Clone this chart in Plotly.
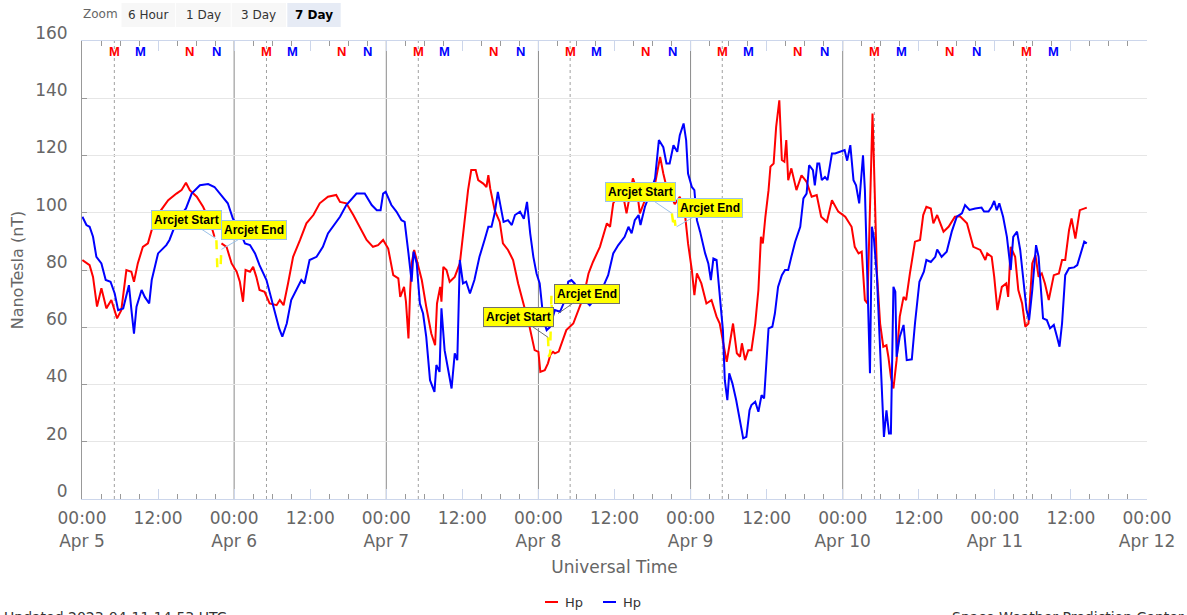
import pandas as pd
import plotly.graph_objects as go

START = pd.Timestamp("2023-04-05 00:00")

# ---------------- data (hours since 2023-04-05 00:00 UT, nT) ----------------
red_hours = [0.06, 1.2, 1.74, 2.37, 3.06, 3.84, 4.63, 5.53, 6.2, 7.0, 7.79, 8.2, 8.8, 9.6, 10.4, 11.0,
             12.3, 13.6, 14.9, 15.7, 16.4, 17.0, 18.1, 19.1, 20.2, 20.9, 21.5, 22.0, 22.8, 23.6,
             24.4, 24.9, 25.4, 25.8, 26.5, 27.0, 27.5, 28.0, 28.8, 29.6, 30.7, 31.2, 31.8, 32.5,
             33.3, 34.4, 35.4, 36.5, 37.5, 38.8, 40.1, 40.7, 41.7, 42.8, 43.8, 44.9, 45.9, 46.7,
             47.5, 48.3, 49.1, 49.9, 50.2, 50.8, 51.1, 51.5, 51.75, 52.0, 52.4, 52.8, 53.6, 54.3,
             55.1, 55.7, 56.0, 56.5, 56.7, 57.0, 57.5, 58.0, 58.8, 59.6, 59.9, 60.4, 60.9, 61.4,
             62.1, 62.5, 63.3, 63.8, 64.1, 64.4, 65.1, 65.9, 66.4, 67.2, 68.0, 68.8, 69.6, 70.6,
             71.4, 72.0, 72.3, 73.0, 73.5, 73.9, 74.3, 74.6, 75.2, 75.7, 76.4, 77.5, 78.3, 79.1,
             79.9, 80.6, 81.7, 82.8, 83.3, 83.8, 84.6, 85.4, 85.9, 86.4, 86.9, 87.5, 88.0, 88.8,
             89.6, 90.4, 91.2, 91.7, 92.2, 93.0, 93.5, 94.3, 95.1, 95.6, 96.2, 96.6, 97.0, 97.7,
             98.5, 99.3, 100.1, 100.6, 101.2, 101.7, 102.1, 102.7, 103.3, 103.8, 104.1, 104.6,
             105.1, 105.6, 106.2, 106.7, 107.1, 107.4, 107.8, 108.3, 108.6, 109.1, 109.5, 110.0,
             110.4, 110.8, 111.1, 111.4, 111.9, 112.7, 113.5, 114.3, 115.1, 115.9, 116.6, 117.5,
             118.3, 119.3, 120.4, 121.4, 121.9, 122.5, 123.0, 123.5, 123.9, 124.4, 124.7, 124.9,
             125.4, 125.9, 126.4, 126.9, 127.2, 127.6, 128.0, 128.5, 129.0, 129.6, 130.0, 130.6,
             131.4, 132.2, 132.7, 133.2, 133.9, 134.3, 134.9, 135.9, 136.7, 137.7, 138.5, 139.6,
             140.6, 141.7, 142.5, 142.8, 143.5, 143.9, 144.4, 145.1, 145.8, 146.1, 146.5, 147.2,
             147.7, 148.3, 148.8, 149.3, 149.9, 150.4, 150.9, 151.4, 151.9, 152.5, 153.3, 154.1,
             154.6, 155.1, 155.7, 156.1, 156.7, 157.4, 158.0, 158.5]
red_values = [83.5, 81.7, 77.6, 67.2, 73.6, 66.6, 69.5, 63.1, 66, 80, 79.4, 75.9, 82.3, 88.1, 89.3, 94,
              100.4, 104.4, 106.7, 107.9, 110.5, 107.9, 105.6, 102.1, 96.8, 91.6, None, 89.3, 88.1, 82.3,
              79.4, 75.9, 68.9, 80, 79.4, 81.1, 77.6, 73, 72.4, 68.3, 67.7, 69.5, 67.7, 75.3,
              84.6, 90.5, 96.3, 99.2, 103.3, 105.6, 106.2, 103.8, 103.3, 99.2, 95.1, 90.5, 88.1, 88.7,
              90.5, 87.5, 78.2, 77.1, 70.6, 74.1, 69, 56.1, 72, 82.3, 87, 83.5, 76.5, 67.2,
              57.8, 53.7, 68.3, 74.1, 68.9, 81.1, 80, 75.9, 77.6, 82.3, 88.1, 96.3, 107.9, 114.9,
              114.9, 111.4, 110.2, 109, 113.1, 108.4, 100.9, 96.8, 89.3, 87, 83.5, 75.3, 68.3, 60.2,
              52, 51.4, 44.4, 45, 47.4, 50.5, 51.4, 50.9, 51.5, 54.4, 59, 61.3, 66, 70.6,
              78.8, 82.8, 88.1, 96.3, 95.1, 103.3, 106.2, 105.6, 99.8, 106.2, 112, 108.4, 99.8, 104.4,
              106.7, 110.2, 119.5, 113.7, 109, 105.6, 103, 105.6, 99.8, 89.3, 80, 71.2, 78.8, 75.3,
              68.3, 69.5, 63.7, 61.3, 54.4, 47.9, 53.2, 61.3, 50.9, 49.7, 54.4, 48.5,
              52, 52, 61.3, 73, 91.6, 89.3, 98.6, 107.9, 116.1, 117.2, 130, 139.3,
              118.4, 117.8, 125.4, 111.4, 115.5, 107.9, 113.1, 110.8, 105.6, 106.2, 98.6, 96.8,
              104.4, 100.4, 98.6, 95.1, 88.1, 85.8, 86.4, 69.5, 68.3, 113.7, 134.7, 119.5,
              78.8, 61.3, 53.2, 53.7, 49.7, 42.7, 38.6, 48.5, 63.7, 70.6, 69.5, 78.8,
              89.9, 90.5, 99.2, 102.1, 101.5, 96.3, 99.2, 93.4, 95.1, 98.6, 98.8, 96.3,
              88.1, 87, 83.5, 85.8, 84.6, 77.6, 66, 74.1, 75.3, 70.6, 88.1, 84.6,
              73, 68.3, 60.2, 61.3, 82.3, 85.2, 77.6, 78.8, 75.3, 69.5, 78.2, 78.8,
              83.5, 83.5, 93.9, 98, 91, 100.9, 101.5, 101.8]

blue_hours = [0.06, 0.7, 1.2, 1.74, 2.27, 3.06, 3.74, 4.5, 5.16, 5.7, 6.5, 7.0, 7.4, 7.8, 8.2, 8.6, 9.4,
              9.9, 10.6, 11.0, 12.0, 13.3, 13.8, 14.6, 15.4, 16.4, 17.3, 18.6, 19.9, 20.9, 22.0,
              23.0, 23.8, 24.6, 25.7, 26.5, 27.3, 28.0, 29.1, 30.2, 31.1, 31.6, 32.3, 33.0, 34.1,
              34.6, 35.1, 35.9, 37.0, 38.0, 38.8, 39.6, 40.7, 41.7, 43.3, 44.6, 45.7, 46.5, 47.1,
              47.5, 47.9, 48.8, 49.6, 50.4, 50.9, 51.5, 52.0, 52.3, 52.8, 53.3, 53.8, 54.3, 54.9,
              55.6, 55.9, 56.4, 56.7, 57.2, 57.8, 58.3, 58.8, 59.2, 59.6, 60.1, 60.6, 61.2, 61.9,
              62.7, 63.5, 64.1, 64.6, 65.1, 65.6, 66.1, 66.5, 67.2, 67.8, 68.3, 69.1, 69.7, 70.2,
              70.7, 71.2, 71.7, 72.2, 72.8, 73.3, 73.8, 74.6, 75.4, 76.2, 76.7, 77.2, 77.7, 78.5,
              79.3, 80.1, 81.2, 82.2, 83.0, 83.8, 84.6, 85.6, 86.2, 86.7, 87.2, 87.8, 88.1, 88.8,
              89.6, 90.4, 91.0, 91.7, 92.2, 92.7, 93.3, 93.9, 94.3, 94.9, 95.3, 95.6, 96.2, 96.6,
              97.0, 97.5, 98.3, 98.8, 99.2, 99.6, 100.1, 100.6, 101.1, 101.4, 101.8, 102.1, 102.6,
              103.2, 103.8, 104.3, 104.8, 105.3, 105.6, 106.2, 106.7, 107.2, 107.6, 108.3, 108.9,
              109.3, 109.8, 110.4, 110.9, 111.4, 111.9, 112.5, 113.3, 113.8, 114.3, 114.7, 115.3,
              115.6, 116.0, 116.3, 116.7, 117.2, 117.6, 118.3, 118.8, 119.6, 120.3, 120.7, 121.2,
              121.7, 122.1, 122.6, 123.2, 123.5, 124.0, 124.3, 124.6, 124.9, 125.4, 125.9, 126.5,
              126.9, 127.3, 127.6, 128.0, 128.3, 128.5, 129.0, 129.6, 130.1, 130.9, 131.4, 132.1,
              132.8, 133.2, 133.9, 134.6, 134.9, 135.6, 136.4, 137.2, 138.0, 138.8, 139.3, 140.0,
              140.9, 141.9, 142.3, 143.0, 143.5, 143.9, 144.3, 144.7, 145.3, 145.9, 146.5, 146.9,
              147.5, 148.0, 148.5, 149.0, 149.4, 149.9, 150.5, 150.9, 151.6, 152.2, 152.7, 153.3,
              153.8, 154.2, 154.6, 155.1, 155.7, 156.5, 157.0, 157.5, 158.1, 158.5]
blue_values = [98.6, 95.7, 95.1, 91.6, 84.6, 82.3, 76.5, 75.9, 71.8, 66, 66.6, 70.6, 74.7, 66, 57.8, 67.2, 73,
               70.6, 68.3, 76.5, 85.8, 88.7, 90.5, 95.1, 98.6, 101.5, 106.7, 109.6, 110, 109, 106.2,
               103.3, 98, 95.1, 89.3, 88.7, 85.8, 81.7, 76.5, 67.2, 59.6, 56.7, 61.3, 69.5, 74.1,
               76.5, 75.3, 83.5, 84.6, 88.1, 92.8, 95.1, 98.6, 102.7, 106.7, 106.7, 102.7, 100.9, 100.9,
               106.7, 107.3, 102.7, 100.4, 97.4, 96.8, 85.8, 75.9, 86.4, 82.3, 68.3, 64.8, 56.7, 41.5,
               37.4, 46.8, 44.4, 66.6, 52, 43.9, 38.6, 50.9, 48.5, 83.5, 75.3, 75.9, 71.8, 76.5,
               84.6, 90.5, 95.1, 95.1, 99.8, 107.3, 102.1, 96.8, 97.4, 95.7, 99.2, 100.4, 97.9, 103.8,
               92.8, 84.6, 78.8, 75.3, 62.5, 59, 60, 66, 65.4, 69.5, 75.9, 76.5, 75.3, 71.8,
               69.5, 67.7, 70.6, 74.1, 78.2, 85.8, 88.7, 91.6, 95.1, 92.8, 97.4, 99.2, 95.7, 102.1,
               106.7, 112, 125.4, 122.9, 117.2, 117.2, 123.6, 121.3, 127.1, 131.2, 125.4, 113.7, 109, 107.9,
               97.4, 93.4, 85.8, 82.3, 76.5, 84, 83.5, 72, 59, 41.5, 34.5, 43.9, 40.4,
               34.5, 27.6, 21.2, 21.7, 31, 32.8, 34, 30.5, 36.3, 35.1, 59.6, 60.2,
               64.8, 74.1, 78.2, 80, 80, 84.6, 89.9, 95.1, 105, 106.7, 116.6, 114.9,
               109.6, 117.2, 117.2, 111.4, 112.5, 111.4, 120.7, 120.7, 121.3, 121.9, 118.2, 123.6,
               111.4, 109.6, 103.3, 120.1, 107.9, 66, 43.9, 95.1, 91.6, 77.6, 52, 21.7,
               31, 22.9, 22.9, 74.1, 72.4, 49.7, 56.7, 60.8, 48.5, 48.8, 61.3, 75.9,
               79.4, 83.5, 82.8, 84.6, 87.2, 84.6, 86.4, 93.4, 98.6, 99.8, 102.7, 101,
               101.5, 101.8, 100.4, 100.4, 102.1, 104.1, 100.9, 103.3, 98.6, 91.6, 80, 91.6,
               93.4, 87, 76.5, 66, 62.5, 73, 88.7, 84.6, 63.1, 62.5, 59.6, 60.8,
               56.7, 53.2, 61.3, 78.2, 80.6, 80.9, 81.7, 85.8, 89.9, 89.3]

# Arcjet intervals (yellow), separated by gaps
arcjet_hours = [21.2, 21.25, 21.35, 21.85, 22.0, None,
                73.5, 73.65, 73.85, 73.95, 74.05, 74.15, None,
                93.05, 93.2, 93.35, 93.5, 93.7, 93.9]
arcjet_values = [90.4, 81.0, 80.5, 80.5, 88.0, None,
                 56.5, 49.7, 51.0, 62.0, 71.0, 63.0, None,
                 99.8, 96.3, 95.0, 97.5, 93.9, 92.8]

arcjet_start_hours = [21.1, 73.5, 93.05]
arcjet_start_values = [91.0, 56.5, 99.8]
arcjet_end_hours = [22.0, 75.1, 93.8]
arcjet_end_values = [87.2, 64.8, 95.1]

# Local noon/midnight markers (hours since start)
red_M_hours = [5.1, 29.1, 53.05, 77.0, 101.0, 125.0, 149.0]
blue_M_hours = [9.25, 33.2, 57.2, 81.2, 105.2, 129.2, 153.2]
red_N_hours = [16.95, 40.9, 64.9, 88.9, 112.9, 136.9]
blue_N_hours = [21.15, 45.1, 69.1, 93.1, 117.1, 141.1]
day_line_hours = [24, 48, 72, 96, 120]

tick_hours = [0, 12, 24, 36, 48, 60, 72, 84, 96, 108, 120, 132, 144, 156, 168]
tick_texts = ["00:00<br>Apr 5", "12:00", "00:00<br>Apr 6", "12:00", "00:00<br>Apr 7", "12:00",
              "00:00<br>Apr 8", "12:00", "00:00<br>Apr 9", "12:00", "00:00<br>Apr 10", "12:00",
              "00:00<br>Apr 11", "12:00", "00:00<br>Apr 12"]
minor_tick_hours = [0, 3, 6, 9, 12, 15, 18, 21, 24, 27, 30, 33, 36, 39, 42, 45, 48, 51, 54, 57, 60,
                    63, 66, 69, 72, 75, 78, 81, 84, 87, 90, 93, 96, 99, 102, 105, 108, 111, 114, 117,
                    120, 123, 126, 129, 132, 135, 138, 141, 144, 147, 150, 153, 156, 159, 162, 165, 168]
zoom_buttons = ["6 Hour", "1 Day", "3 Day", "7 Day"]


def t(h):
    return None if h is None else START + pd.Timedelta(hours=h)


# ---------------- layout geometry ----------------
W, H = 1187, 615
L, R, T, B = 82, 40, 41, 116
PW, PH = W - L - R, H - T - B


def px(xp):
    return (xp - L) / PW


def py(yp):
    return (H - B - yp) / PH


FONT = "DejaVu Sans"
BOLD = "Liberation Sans, Arial"

fig = go.Figure()
fig.add_trace(go.Scatter(x=[t(h) for h in red_hours], y=red_values, mode="lines", name="Hp",
                         line=dict(color="#ff0000", width=2), connectgaps=False, showlegend=False))
fig.add_trace(go.Scatter(x=[t(h) for h in blue_hours], y=blue_values, mode="lines", name="Hp",
                         line=dict(color="#0000ff", width=2), showlegend=False))
fig.add_trace(go.Scatter(x=[t(h) for h in arcjet_hours], y=arcjet_values, mode="lines", name="Arcjet",
                         line=dict(color="#ffff00", width=2.5, dash="dash"), connectgaps=False,
                         showlegend=False))

shapes = []
for h in day_line_hours:
    shapes.append(dict(type="line", xref="x", yref="paper", x0=t(h), x1=t(h), y0=0, y1=1,
                       line=dict(color="#8a8a8a", width=1), layer="below"))
for h in red_M_hours:
    shapes.append(dict(type="line", xref="x", yref="paper", x0=t(h), x1=t(h), y0=0, y1=1,
                       line=dict(color="#a0a0a0", width=1, dash="dot"), layer="below"))

annotations = []
for hs, txt, col in [(red_M_hours, "M", "#ff0000"), (blue_M_hours, "M", "#0000ff"),
                     (red_N_hours, "N", "#ff0000"), (blue_N_hours, "N", "#0000ff")]:
    for h in hs:
        annotations.append(dict(x=t(h), y=1, xref="x", yref="paper", text="<b>%s</b>" % txt,
                                showarrow=False, yanchor="middle", yshift=-10,
                                font=dict(family=BOLD, size=13, color=col)))

# Arcjet annotations
pair_colors = ["#9cc2e8", "#707070", "#9cc2e8"]
start_off = [(-29, -19), (-29, -20), (-31, -21)]
end_off = [(33, -19), (29, -20), (33, -19)]
for i in range(3):
    for hh, vv, lab, off in [(arcjet_start_hours[i], arcjet_start_values[i], "Arcjet Start", start_off[i]),
                             (arcjet_end_hours[i], arcjet_end_values[i], "Arcjet End", end_off[i])]:
        annotations.append(dict(x=t(hh), y=vv, xref="x", yref="y", text="<b>%s</b>" % lab,
                                showarrow=True, arrowhead=0, arrowwidth=1, arrowcolor=pair_colors[i],
                                ax=off[0], ay=off[1], standoff=0, bgcolor="#ffff00",
                                bordercolor=pair_colors[i], borderwidth=1, borderpad=2,
                                font=dict(family=BOLD, size=12, color="#000000")))

# Zoom buttons
annotations.append(dict(x=px(100), y=py(14), xref="paper", yref="paper", text="Zoom", showarrow=False,
                        xanchor="center", yanchor="middle", font=dict(family=FONT, size=12, color="#666666")))
btn_edges = [(121.5, 175), (175.8, 230.7), (231.7, 286), (287.3, 340.7)]
for i, (name, (x0, x1)) in enumerate(zip(zoom_buttons, btn_edges)):
    sel = name == "7 Day"
    shapes.append(dict(type="rect", xref="paper", yref="paper", x0=px(x0), x1=px(x1), y0=py(27), y1=py(3),
                       fillcolor="#e6ebf5" if sel else "#f7f7f7", line=dict(width=0), layer="above"))
    annotations.append(dict(x=px((x0 + x1) / 2), y=py(14.5), xref="paper", yref="paper",
                            text=("<b>%s</b>" % name) if sel else name, showarrow=False,
                            xanchor="center", yanchor="middle",
                            font=dict(family=FONT, size=12, color="#000000" if sel else "#333333")))

# Custom legend
shapes.append(dict(type="line", xref="paper", yref="paper", x0=px(545), x1=px(558), y0=py(602), y1=py(602),
                   line=dict(color="#ff0000", width=2)))
shapes.append(dict(type="line", xref="paper", yref="paper", x0=px(603), x1=px(616), y0=py(602), y1=py(602),
                   line=dict(color="#0000ff", width=2)))
for xl in (563, 621):
    annotations.append(dict(x=px(xl), y=py(602), xref="paper", yref="paper", text="Hp", showarrow=False,
                            xanchor="left", yanchor="middle", font=dict(family=FONT, size=13, color="#333333")))

# Footer (cut by window bottom, as in the reference)
annotations.append(dict(x=px(2), y=py(607), xref="paper", yref="paper", text="Updated 2023-04-11 14:53 UTC",
                        showarrow=False, xanchor="left", yanchor="top",
                        font=dict(family=FONT, size=14, color="#333333")))
annotations.append(dict(x=px(1186), y=py(607), xref="paper", yref="paper", text="Space Weather Prediction Center",
                        showarrow=False, xanchor="right", yanchor="top",
                        font=dict(family=FONT, size=14, color="#333333")))

fig.update_layout(
    width=W, height=H,
    margin=dict(l=L, r=R, t=T, b=B),
    paper_bgcolor="#ffffff", plot_bgcolor="#ffffff",
    font=dict(family=FONT, color="#666666"),
    showlegend=False,
    shapes=shapes, annotations=annotations,
    hovermode="x",
    xaxis=dict(
        type="date",
        range=[t(0), t(168)],
        tickmode="array", tickvals=[t(h) for h in tick_hours], ticktext=tick_texts,
        ticks="inside", ticklen=10, tickcolor="#ccd6eb", tickwidth=1,
        tickfont=dict(family=FONT, size=17, color="#666666"),
        showline=True, linecolor="#ccd6eb", linewidth=1, mirror="ticks",
        showgrid=False, zeroline=False,
        minor=dict(tickmode="array", tickvals=[t(h) for h in minor_tick_hours],
                   ticks="inside", ticklen=5, tickcolor="#999999", showgrid=False),
        title=dict(text="Universal Time", font=dict(family=FONT, size=17, color="#666666"), standoff=11),
        ticklabelstandoff=4,
    ),
    yaxis=dict(
        range=[0, 160], tickmode="array", tickvals=[0, 20, 40, 60, 80, 100, 120, 140, 160],
        ticks="inside", ticklen=5, tickcolor="#999999",
        tickfont=dict(family=FONT, size=17, color="#666666"),
        showline=True, linecolor="#999999", linewidth=1,
        showgrid=True, gridcolor="#e6e6e6", gridwidth=1, zeroline=False,
        ticklabelshift=-8, ticklabelstandoff=10,
        title=dict(text="NanoTesla (nT)", font=dict(family=FONT, size=16, color="#666666"), standoff=7),
    ),
)

fig.write_html("out.html", config={"displayModeBar": False})
